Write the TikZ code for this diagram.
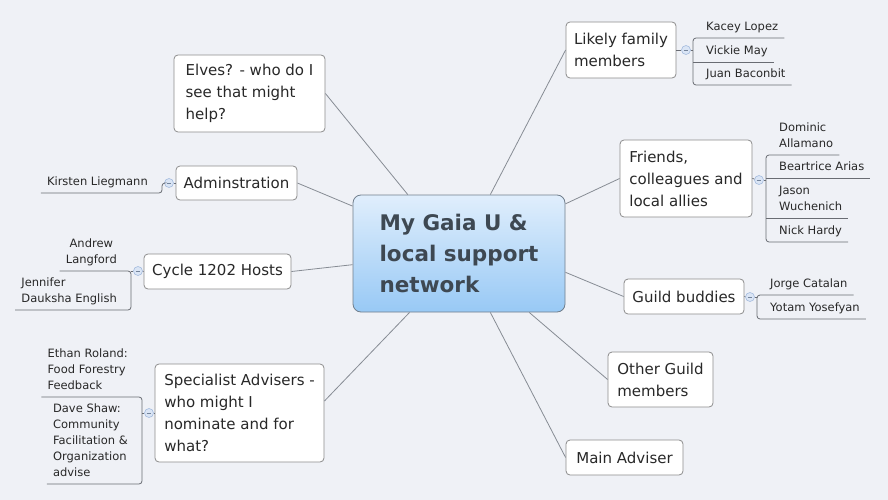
\documentclass[tikz,border=0pt]{standalone}
\usepackage{fontspec}
\setmainfont{DejaVu Sans}
\definecolor{bg}{RGB}{239,241,246}
\definecolor{boxline}{RGB}{140,140,140}
\definecolor{conn}{RGB}{135,140,148}
\definecolor{leafc}{RGB}{105,108,115}
\definecolor{txt}{RGB}{40,40,40}
\definecolor{ctxt}{RGB}{62,72,82}
\definecolor{ctop}{RGB}{224,238,252}
\definecolor{cbot}{RGB}{152,201,245}
\definecolor{cborder}{RGB}{112,126,140}
\definecolor{tglfill}{RGB}{218,229,245}
\definecolor{tglline}{RGB}{165,188,222}
\tikzset{
  box/.style={draw=boxline, fill=white, rounded corners=4pt, line width=0.8pt,
    align=left, text=txt, font=\fontsize{15}{22}\selectfont, inner sep=0pt},
  centerbox/.style={draw=cborder, top color=ctop, bottom color=cbot, rounded corners=8pt,
    line width=0.8pt, align=left, text=ctxt, font=\fontsize{21.5}{31}\selectfont\bfseries, inner sep=0pt},
  leaf/.style={inner xsep=6pt, inner ysep=0pt, text depth=7pt, align=left, text=txt,
    font=\fontsize{11.5}{16}\selectfont},
  conn/.style={draw=conn, line width=0.8pt},
  leafline/.style={draw=leafc, line width=0.8pt},
  toggle/.style={circle, minimum size=9pt, inner sep=0pt, fill=tglfill, draw=tglline, line width=0.6pt,
    path picture={\draw[tglline!70!black, line width=0.6pt] ([xshift=-2.4pt]path picture bounding box.center) -- ([xshift=2.4pt]path picture bounding box.center);}}
}
\begin{document}
\begin{tikzpicture}[x=1pt, y=-1pt]
\fill[bg] (0,0) rectangle (888,500);
\useasboundingbox (0,0) rectangle (888,500);

% central
\node[centerbox, minimum width=212pt, minimum height=117pt] (central) at (459,253.5) {My Gaia U \&\\local support\\network};

% boxes right
\node[box, minimum width=110pt, minimum height=56pt] (likely) at (621,50) {Likely family\\members};
\node[box, minimum width=132pt, minimum height=77pt] (friends) at (686,178.5) {Friends,\\colleagues and\\local allies};
\node[box, minimum width=120pt, minimum height=35pt] (guild) at (684,296.5) {Guild buddies};
\node[box, minimum width=105pt, minimum height=55pt] (other) at (660.5,379.5) {Other Guild\\members};
\node[box, minimum width=117pt, minimum height=35pt] (main) at (624.5,457.5) {Main Adviser};

% boxes left
\node[box, minimum width=151pt, minimum height=77pt] (elves) at (249.5,93.5) {Elves? - who do I\\see that might\\help?};
\node[box, minimum width=121pt, minimum height=34pt] (admin) at (236.5,183) {Adminstration};
\node[box, minimum width=147pt, minimum height=35pt] (cycle) at (217.5,271.5) {Cycle 1202 Hosts};
\node[box, minimum width=169pt, minimum height=98pt] (spec) at (239.5,413) {Specialist Advisers -\\who might I\\nominate and for\\what?};

% main connectors
\draw[conn] (central.62) -- (likely.west);
\draw[conn] (central.25) -- (friends.west);
\draw[conn] (central.-10) -- (guild.west);
\draw[conn] (central.-40.3) -- (other.west);
\draw[conn] (central.-62.1) -- (main.west);
\draw[conn] (central.131) -- (elves.east);
\draw[conn] (central.156.3) -- (admin.east);
\draw[conn] (central.186.2) -- (cycle.east);
\draw[conn] (central.230) -- (spec.8);

% toggles
\node[toggle] (t1) at (686,50) {};
\node[toggle] (t2) at (759,180) {};
\node[toggle] (t3) at (750,297) {};
\node[toggle] (t4) at (169,183) {};
\node[toggle] (t5) at (138,271) {};
\node[toggle] (t6) at (149,413) {};
\draw[leafline] (likely.east) -- (t1);
\draw[leafline] (friends.east) -- (t2);
\draw[leafline] (guild.east) -- (t3);
\draw[leafline] (admin.west) -- (t4);
\draw[leafline] (cycle.west) -- (t5);
\draw[leafline] (spec.west) -- (t6);

% right leaves
\node[leaf, anchor=south west] (kacey) at (700,38) {Kacey Lopez};
\node[leaf, anchor=south west] (vickie) at (700,62) {Vickie May};
\node[leaf, anchor=south west] (juan) at (700,85) {Juan Baconbit};
\node[leaf, anchor=south west] (dominic) at (773,155) {Dominic\\Allamano};
\node[leaf, anchor=south west] (beartrice) at (773,178) {Beartrice Arias};
\node[leaf, anchor=south west] (jason) at (773,218) {Jason\\Wuchenich};
\node[leaf, anchor=south west] (nick) at (773,242) {Nick Hardy};
\node[leaf, anchor=south west] (jorge) at (764,295) {Jorge Catalan};
\node[leaf, anchor=south west] (yotam) at (764,319) {Yotam Yosefyan};

\draw[leafline, rounded corners=3pt] (kacey.south east) -- ([xshift=-7pt]kacey.south west) -- ([xshift=-7pt]juan.south west) -- (juan.south east);
\draw[leafline] ([xshift=-7pt]vickie.south west) -- (vickie.south east);
\draw[leafline] (t1.east) -- ++(2.5pt,0);

\draw[leafline, rounded corners=3pt] (dominic.south east) -- ([xshift=-7pt]dominic.south west) -- ([xshift=-7pt]nick.south west) -- (nick.south east);
\draw[leafline] ([xshift=-7pt]beartrice.south west) -- (beartrice.south east);
\draw[leafline] ([xshift=-7pt]jason.south west) -- (jason.south east);
\draw[leafline] (t2.east) -- ++(2.5pt,0);

\draw[leafline, rounded corners=3pt] (jorge.south east) -- ([xshift=-7pt]jorge.south west) -- ([xshift=-7pt]yotam.south west) -- (yotam.south east);
\draw[leafline] (t3.east) -- ++(2.5pt,0);

% left leaves
\node[leaf, anchor=south east] (kirsten) at (154,193) {Kirsten Liegmann};
\node[leaf, anchor=south east, align=center] (andrew) at (123,271) {Andrew\\Langford};
\node[leaf, anchor=south east] (jennifer) at (123,310) {Jennifer\\Dauksha English};
\node[leaf, anchor=south east] (ethan) at (134,397) {Ethan Roland:\\Food Forestry\\Feedback};
\node[leaf, anchor=south east] (dave) at (134,484) {Dave Shaw:\\Community\\Facilitation \&\\Organization\\advise};

\draw[leafline, rounded corners=3pt] (kirsten.south west) -- ([xshift=8pt]kirsten.south east) |- (t4.west);

\draw[leafline, rounded corners=3pt] (andrew.south west) -- ([xshift=8pt]andrew.south east) -- ([xshift=8pt]jennifer.south east) -- (jennifer.south west);
\draw[leafline] (t5.west) -- ++(-2.5pt,0);

\draw[leafline, rounded corners=3pt] (ethan.south west) -- ([xshift=8pt]ethan.south east) -- ([xshift=8pt]dave.south east) -- (dave.south west);
\draw[leafline] (t6.west) -- ++(-2.5pt,0);
\end{tikzpicture}
\end{document}
